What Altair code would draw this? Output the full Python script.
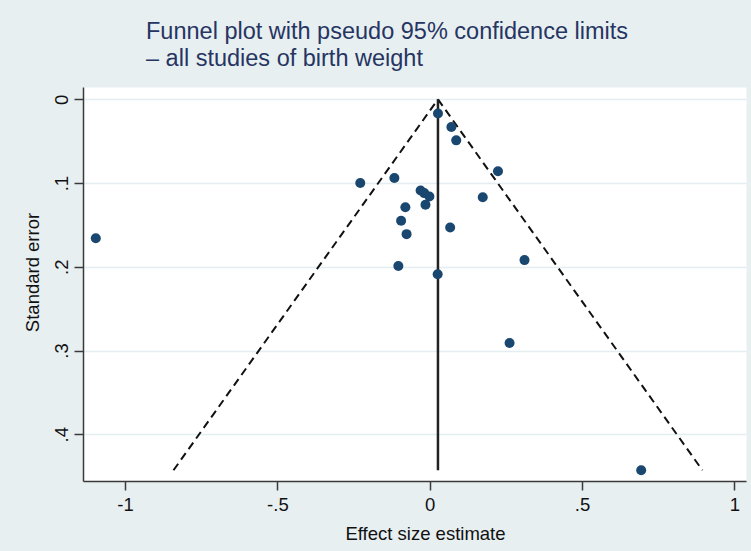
import altair as alt
import pandas as pd

# Study estimates
effect = [0.027, 0.071, 0.087, 0.224, -0.228, -0.116, -0.030, -0.018, -0.001,
          -0.014, -0.080, 0.174, -0.094, -0.076, 0.067, -1.096, -0.103, 0.026,
          0.311, 0.262, 0.694]
std_err = [0.017, 0.033, 0.049, 0.086, 0.100, 0.094, 0.109, 0.112, 0.116,
           0.126, 0.129, 0.117, 0.145, 0.161, 0.153, 0.166, 0.199, 0.209,
           0.192, 0.291, 0.443]

# Funnel (pseudo 95% limits) and pooled estimate line
funnel_left_x = [0.027, -0.841]
funnel_left_se = [0.0, 0.443]
funnel_right_x = [0.027, 0.895]
funnel_right_se = [0.0, 0.443]
pooled_x = [0.027, 0.027]
pooled_se = [0.0, 0.443]

x_ticks = [-1, -0.5, 0, 0.5, 1]
x_tick_labels = ["-1", "-.5", "0", ".5", "1"]
y_ticks = [0, 0.1, 0.2, 0.3, 0.4]
y_tick_labels = ["0", ".1", ".2", ".3", ".4"]

x_domain = [-1.138, 1.038]
y_domain = [-0.0147, 0.4558]

pts = pd.DataFrame({"effect": effect, "se": std_err})
fl = pd.DataFrame({"effect": funnel_left_x, "se": funnel_left_se})
fr = pd.DataFrame({"effect": funnel_right_x, "se": funnel_right_se})
pl = pd.DataFrame({"effect": pooled_x, "se": pooled_se})


def label_expr(vals, labs):
    parts = []
    for v, l in zip(vals, labs):
        parts.append(f"abs(datum.value - ({v})) < 1e-9 ? '{l}'")
    return " : ".join(parts) + " : ''"


AXIS_COLOR = "#3a3a3a"
FONT = "Liberation Sans"

x_enc = alt.X(
    "effect:Q",
    scale=alt.Scale(domain=x_domain, nice=False, zero=False),
    axis=alt.Axis(
        title="Effect size estimate",
        values=x_ticks,
        labelExpr=label_expr(x_ticks, x_tick_labels),
        grid=False,
        domainColor=AXIS_COLOR,
        domainWidth=1.5,
        tickColor=AXIS_COLOR,
        tickWidth=1.5,
        tickSize=9,
        labelFontSize=18.5,
        labelPadding=5,
        labelColor="#111111",
        labelFont=FONT,
        titleFont=FONT,
        titleFontSize=18.5,
        titleFontWeight="normal",
        titleColor="#111111",
        titlePadding=11,
        titleX=342,
        titleAlign="center",
    ),
)

y_enc = alt.Y(
    "se:Q",
    scale=alt.Scale(domain=y_domain, nice=False, zero=False, reverse=True),
    axis=alt.Axis(
        title="Standard error",
        values=y_ticks,
        labelExpr=label_expr(y_ticks, y_tick_labels),
        grid=True,
        gridColor="#e4edf0",
        gridWidth=1.5,
        domainColor=AXIS_COLOR,
        domainWidth=1.5,
        tickColor=AXIS_COLOR,
        tickWidth=1.5,
        tickSize=9,
        labelAngle=-90,
        labelAlign="center",
        labelBaseline="bottom",
        labelFontSize=18.5,
        labelPadding=3,
        labelColor="#111111",
        labelFont=FONT,
        titleFont=FONT,
        titleFontSize=18.5,
        titleFontWeight="normal",
        titleColor="#111111",
        titlePadding=10,
        titleY=185,
        titleAlign="center",
    ),
)

left = alt.Chart(fl).mark_line(color="#111111", strokeWidth=2, strokeDash=[8, 5]).encode(x=x_enc, y=y_enc)
right = alt.Chart(fr).mark_line(color="#111111", strokeWidth=2, strokeDash=[8, 5]).encode(x="effect:Q", y="se:Q")
pooled = alt.Chart(pl).mark_line(color="#222222", strokeWidth=2.5).encode(x="effect:Q", y="se:Q")
points = alt.Chart(pts).mark_circle(color="#1a476f", opacity=1, size=100).encode(x="effect:Q", y="se:Q")

chart = alt.layer(left, right, pooled, points).properties(
    width=663,
    height=394,
    padding={"left": 83, "top": 87, "right": 5, "bottom": 70},
    autosize=alt.AutoSizeParams(type="none"),
    background="#e8eff1",
    title=alt.TitleParams(
        text=["Funnel plot with pseudo 95% confidence limits", "– all studies of birth weight"],
        anchor="start",
        frame="group",
        dx=63,
        offset=17,
        fontSize=23.5,
        lineHeight=27,
        font=FONT,
        fontWeight="normal",
        color="#263562",
    ),
).configure_view(fill="white", stroke="transparent")

chart.save("out.html", embed_options={"renderer": "svg", "actions": False})
